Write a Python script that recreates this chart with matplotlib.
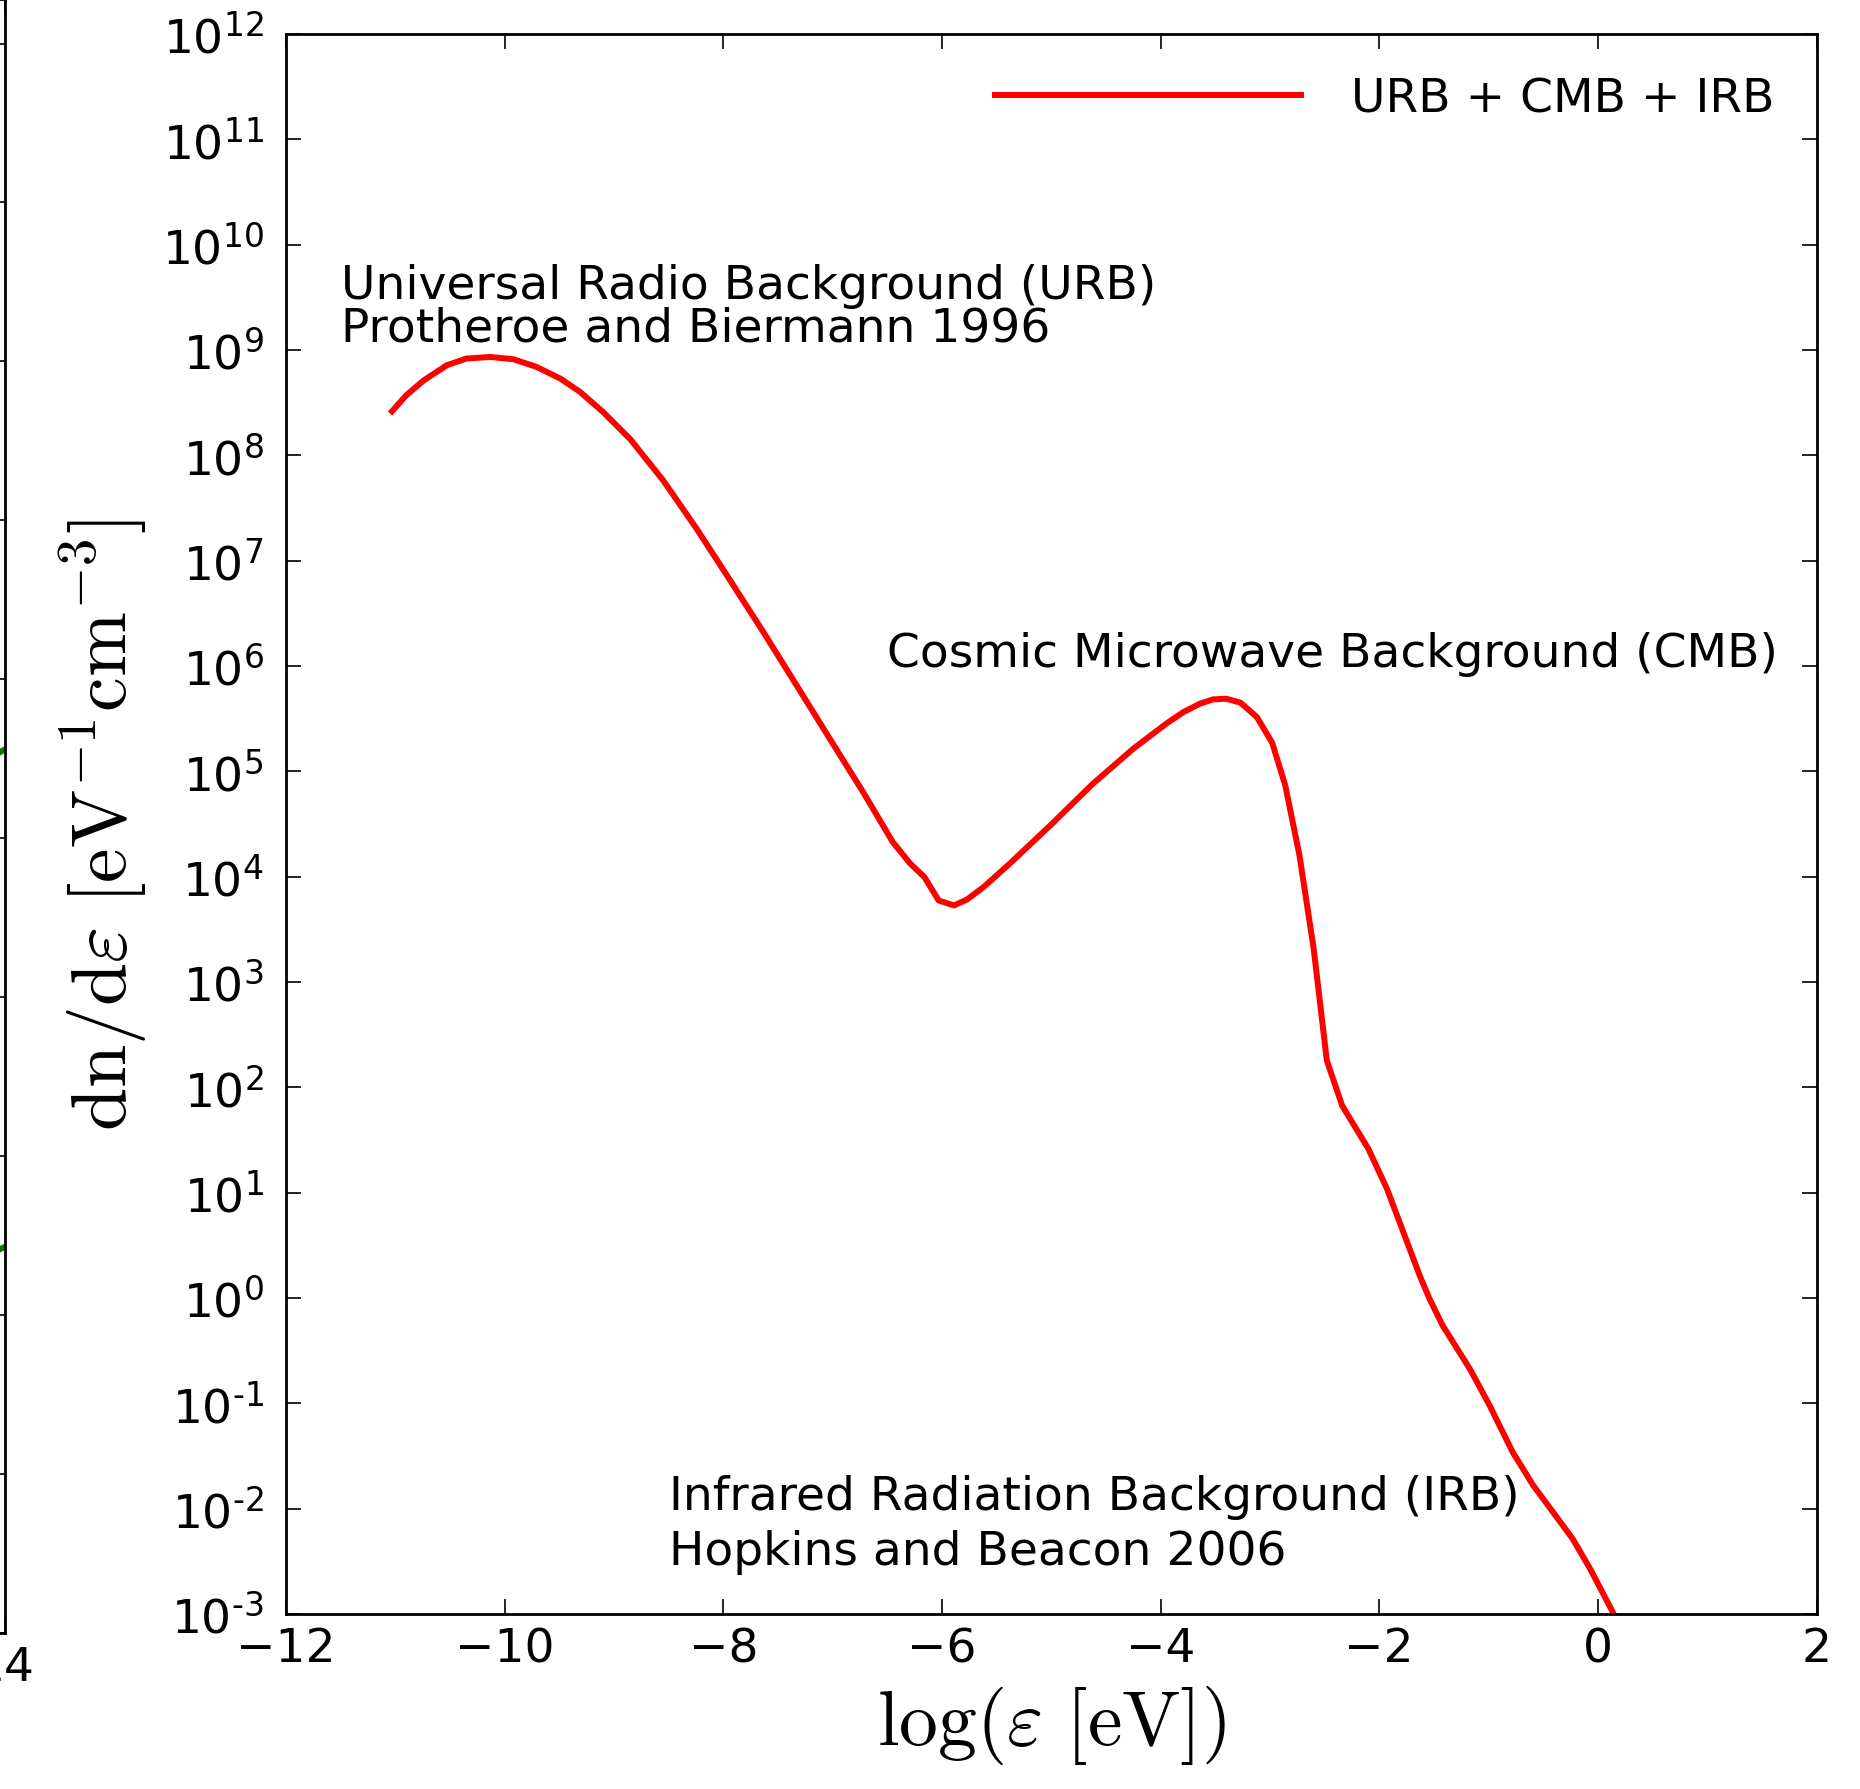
import matplotlib
matplotlib.use("Agg")
import matplotlib.pyplot as plt
from matplotlib.ticker import NullLocator, FixedLocator

# ---------------- data ----------------
log_eps = [-11.03, -10.90, -10.74, -10.53, -10.35, -10.13, -9.92, -9.71, -9.49, -9.31,
           -9.10, -8.85, -8.55, -8.24, -7.94, -7.63, -7.33, -7.03, -6.72, -6.45,
           -6.29, -6.16, -6.03, -5.89, -5.77, -5.62, -5.38, -5.01, -4.62, -4.25,
           -3.95, -3.79, -3.64, -3.52, -3.40, -3.27, -3.12, -2.98, -2.86, -2.73,
           -2.60, -2.48, -2.34, -2.10, -1.93, -1.78, -1.63, -1.54, -1.42, -1.17,
           -0.99, -0.78, -0.59, -0.41, -0.23, -0.07, 0.13, 0.20]
dn_de = [2.62e8, 3.72e8, 5.15e8, 7.16e8, 8.30e8, 8.59e8, 8.17e8, 6.92e8, 5.35e8, 4.00e8,
         2.58e8, 1.42e8, 5.78e7, 1.98e7, 6.56e6, 2.07e6, 6.56e5, 2.07e5, 6.32e4, 2.13e4,
         1.33e4, 9.91e3, 5.94e3, 5.33e3, 6.08e3, 7.96e3, 1.33e4, 3.06e4, 7.62e4, 1.64e5,
         2.83e5, 3.66e5, 4.39e5, 4.82e5, 4.89e5, 4.49e5, 3.28e5, 1.87e5, 7.35e4, 1.59e4,
         2.07e3, 1.80e2, 67.1, 26.1, 10.9, 4.22, 1.63, 0.98, 0.547, 0.211,
         0.0951, 0.0344, 0.0165, 9.25e-3, 5.15e-3, 2.67e-3, 1.07e-3, 7.6e-4]
series_label = "URB + CMB + IRB"

x_ticks = [-12, -10, -8, -6, -4, -2, 0, 2]
y_decades = list(range(-3, 13))

annotations = [
    (-11.5, 3.14e9, "Universal Radio Background (URB)"),
    (-11.5, 1.24e9, "Protheroe and Biermann 1996"),
    (-6.5, 1.0e6, "Cosmic Microwave Background (CMB)"),
    (-8.5, 1.0e-2, "Infrared Radiation Background (IRB)"),
    (-8.5, 3.0e-3, "Hopkins and Beacon 2006"),
]

# neighbouring (cropped) panel on the far left
left_x = [13.6, 14.0]
left_green_a = [5.40, 5.56]
left_green_b = [2.30, 2.43]
left_xticks = [0, 2, 4, 6, 8, 10, 12, 14]
left_yticks = list(range(0, 11))

# ---------------- style ----------------
plt.rcParams['font.family'] = ['DejaVu Sans']
plt.rcParams['mathtext.fontset'] = 'dejavusans'
FS = 33.9
LW = 4.3

W, H, DPI = 1860, 1790, 100
fig = plt.figure(figsize=(W / DPI, H / DPI), dpi=DPI)
fig.patch.set_facecolor('white')

def style_axes(ax):
    for s in ax.spines.values():
        s.set_linewidth(2.0)
    ax.tick_params(which='major', direction='in', length=10.5, width=1.2,
                   labelsize=FS, top=True, right=True, pad=9)
    ax.tick_params(axis='y', which='major', pad=16)
    ax.tick_params(which='minor', length=0)

# --- cropped left panel ---
axl = fig.add_axes([5 / W - 0.8, (H - 1634) / H, 0.8, 1634 / H])
axl.plot(left_x, left_green_a, color='green', lw=LW)
axl.plot(left_x, left_green_b, color='green', lw=LW)
axl.set_xlim(0, 14)
axl.set_ylim(0, 10.28)
axl.xaxis.set_major_locator(FixedLocator(left_xticks))
axl.yaxis.set_major_locator(FixedLocator(left_yticks))
style_axes(axl)
axl.set_xticklabels([str(t) for t in left_xticks])

# --- main panel ---
ax = fig.add_axes([286 / W, (H - 1615) / H, 1530.6 / W, 1580 / H])
ax.plot(log_eps, dn_de, color='#ff0000', lw=LW, label=series_label)
ax.set_yscale('log')
ax.set_xlim(-12, 2)
ax.set_ylim(1e-3, 1e12)
ax.set_xticks(x_ticks)
ax.yaxis.set_major_locator(FixedLocator([10.0 ** d for d in y_decades]))
ax.yaxis.set_minor_locator(NullLocator())
ax.xaxis.set_minor_locator(NullLocator())
ax.set_yticklabels([r'$\mathdefault{10^{%s}}$' % str(d).replace('-', '\u2010')
                    for d in y_decades])
style_axes(ax)

for x, y, s in annotations:
    ax.text(x, y, s, fontsize=FS, ha='left', va='baseline')

leg = ax.legend(loc='upper right', frameon=False, fontsize=FS,
                handlelength=6.5, handletextpad=1.05)

ax.set_xlabel(r'$\log(\varepsilon\ [\mathrm{eV}])$', fontsize=56,
              math_fontfamily='cm', labelpad=8)
ax.set_ylabel(r'$\mathrm{dn/d}\varepsilon\ [\mathrm{eV^{-1}cm^{-3}}]$', fontsize=56,
              math_fontfamily='cm', labelpad=8)

fig.savefig('out.png', dpi=DPI, facecolor='white')
